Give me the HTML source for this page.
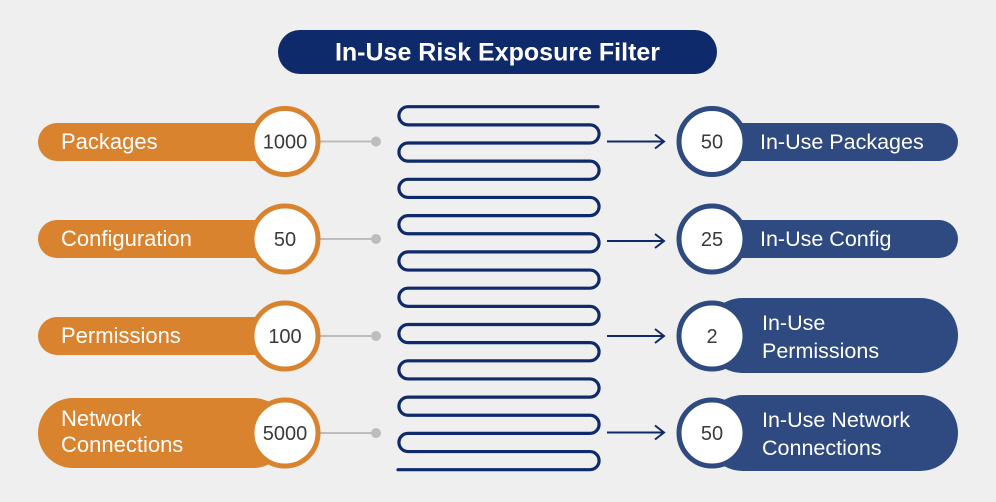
<!DOCTYPE html>
<html><head><meta charset="utf-8"><style>
html,body{margin:0;padding:0;background:#efefef;}
svg{display:block}
text{font-family:"Liberation Sans",sans-serif;}
</style></head><body>
<svg width="996" height="502" viewBox="0 0 996 502" xmlns="http://www.w3.org/2000/svg">
<rect width="996" height="502" fill="#efefef"/>
<rect x="278" y="30" width="439" height="44" rx="22" fill="#0f2a6b"/>
<text x="497.5" y="60.5" text-anchor="middle" font-size="25" font-weight="bold" fill="#fff">In-Use Risk Exposure Filter</text>

<path fill="none" stroke="#0f2a6b" stroke-width="3.2" stroke-linecap="round" d="M598 106.7 H408 A9.075 9.075 0 0 0 408 124.85 H590 A9.075 9.075 0 0 1 590 143 H408 A9.075 9.075 0 0 0 408 161.15 H590 A9.075 9.075 0 0 1 590 179.3 H408 A9.075 9.075 0 0 0 408 197.45 H590 A9.075 9.075 0 0 1 590 215.6 H408 A9.075 9.075 0 0 0 408 233.75 H590 A9.075 9.075 0 0 1 590 251.9 H408 A9.075 9.075 0 0 0 408 270.05 H590 A9.075 9.075 0 0 1 590 288.2 H408 A9.075 9.075 0 0 0 408 306.35 H590 A9.075 9.075 0 0 1 590 324.5 H408 A9.075 9.075 0 0 0 408 342.65 H590 A9.075 9.075 0 0 1 590 360.8 H408 A9.075 9.075 0 0 0 408 378.95 H590 A9.075 9.075 0 0 1 590 397.1 H408 A9.075 9.075 0 0 0 408 415.25 H590 A9.075 9.075 0 0 1 590 433.4 H408 A9.075 9.075 0 0 0 408 451.55 H590 A9.075 9.075 0 0 1 590 469.7 H398"/>

<g fill="#d9832f">
<rect x="38" y="123" width="250" height="38" rx="19"/>
<rect x="38" y="220" width="250" height="38" rx="19"/>
<rect x="38" y="317" width="250" height="38" rx="19"/>
<rect x="38" y="398" width="250" height="70" rx="35"/>
</g>
<g stroke="#bdbdbd" stroke-width="2">
<line x1="318" y1="141.5" x2="376" y2="141.5"/>
<line x1="318" y1="239" x2="376" y2="239"/>
<line x1="318" y1="336" x2="376" y2="336"/>
<line x1="318" y1="433" x2="376" y2="433"/>
</g>
<g fill="#bdbdbd">
<circle cx="376" cy="141.5" r="5"/><circle cx="376" cy="239" r="5"/><circle cx="376" cy="336" r="5"/><circle cx="376" cy="433" r="5"/>
</g>
<g fill="#fff" stroke="#d9832f" stroke-width="5">
<circle cx="285" cy="141.5" r="33"/>
<circle cx="285" cy="239" r="33"/>
<circle cx="285" cy="336" r="33"/>
<circle cx="285" cy="433" r="33"/>
</g>
<g fill="#fff" font-size="22">
<text x="61" y="149">Packages</text>
<text x="61" y="246">Configuration</text>
<text x="61" y="343">Permissions</text>
<text x="61" y="426">Network</text>
<text x="61" y="452">Connections</text>
</g>
<g fill="#3a3a3a" font-size="20" text-anchor="middle">
<text x="285" y="148.5">1000</text>
<text x="285" y="246">50</text>
<text x="285" y="343">100</text>
<text x="285" y="440">5000</text>
</g>

<g stroke="#0f2a6b" stroke-width="2" fill="none">
<path d="M607 141.5 H664 M655 134.5 L664 141.5 L655 148.5"/>
<path d="M607 241 H664 M655 234 L664 241 L655 248"/>
<path d="M607 336 H664 M655 329 L664 336 L655 343"/>
<path d="M607 432.5 H664 M655 425.5 L664 432.5 L655 439.5"/>
</g>

<g fill="#2f4a80">
<rect x="705" y="123" width="253" height="38" rx="19"/>
<rect x="705" y="220" width="253" height="38" rx="19"/>
<rect x="705" y="298" width="253" height="75" rx="37.5"/>
<rect x="705" y="395" width="253" height="76" rx="38"/>
</g>
<g fill="#fff" stroke="#2f4a80" stroke-width="5">
<circle cx="712" cy="141.5" r="33"/>
<circle cx="712" cy="239" r="33"/>
<circle cx="712" cy="336" r="33"/>
<circle cx="712" cy="433" r="33"/>
</g>
<g fill="#3a3a3a" font-size="20" text-anchor="middle">
<text x="712" y="148.5">50</text>
<text x="712" y="246">25</text>
<text x="712" y="343">2</text>
<text x="712" y="440">50</text>
</g>
<g fill="#fff" font-size="21.5">
<text x="760" y="149">In-Use Packages</text>
<text x="760" y="246">In-Use Config</text>
<text x="762" y="330">In-Use</text>
<text x="762" y="358">Permissions</text>
<text x="762" y="427">In-Use Network</text>
<text x="762" y="455">Connections</text>
</g>
</svg>
</body></html>
